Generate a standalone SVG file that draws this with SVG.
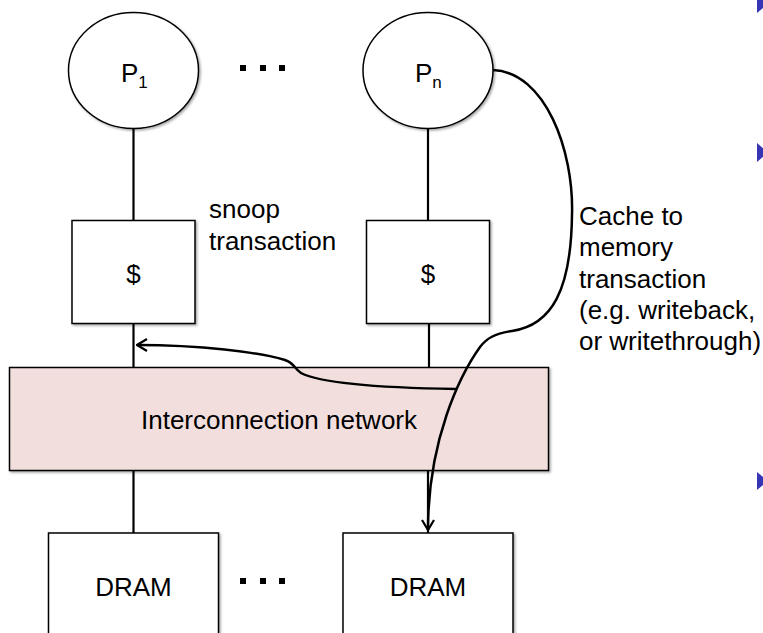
<svg xmlns="http://www.w3.org/2000/svg" width="763" height="633" viewBox="0 0 763 633">
<style>
  text { font-family: "Liberation Sans", Arial, sans-serif; font-size: 26px; fill: #000; }
  .node { fill: #fff; stroke: #000; stroke-width: 1.5; }
  .net { fill: #f2dfdd; stroke: #000; stroke-width: 1.5; }
  .wire { stroke: #000; stroke-width: 2.2; fill: none; }
  .curve { stroke: #000; stroke-width: 2.5; fill: none; }
  .dot { fill: #000; }
  .bullet { fill: #3535b5; }
</style>
<defs>
  <filter id="sh" x="-10%" y="-10%" width="130%" height="130%">
    <feDropShadow dx="1.5" dy="1.5" stdDeviation="1" flood-color="#000" flood-opacity="0.35"/>
  </filter>
  <marker id="arr" viewBox="0 0 12 14" refX="11" refY="7" markerWidth="12" markerHeight="14" markerUnits="userSpaceOnUse" orient="auto">
    <path d="M1,1 L11,7 L1,13" fill="none" stroke="#000" stroke-width="2.2"/>
  </marker>
</defs>

<g id="connectors">
  <line class="wire" x1="133.5" y1="128.5" x2="133.5" y2="220.5"/>
  <line class="wire" x1="428" y1="128.5" x2="428" y2="220.5"/>
  <line class="wire" x1="133.5" y1="323.5" x2="133.5" y2="367.5"/>
  <line class="wire" x1="429" y1="323.5" x2="429" y2="367.5"/>
  <line class="wire" x1="133.5" y1="470.5" x2="133.5" y2="533"/>
  <line class="wire" x1="428" y1="470.5" x2="428" y2="533"/>
</g>

<g id="network">
  <rect class="net" x="9.5" y="367.5" width="539" height="103" filter="url(#sh)"/>
  <text x="279" y="429" text-anchor="middle">Interconnection network</text>
</g>

<g id="p1">
  <ellipse class="node" cx="133.5" cy="70.5" rx="65" ry="58" filter="url(#sh)"/>
  <text x="121" y="82">P<tspan font-size="17" dy="6">1</tspan></text>
</g>
<g id="pn">
  <ellipse class="node" cx="428" cy="70.5" rx="65" ry="58" filter="url(#sh)"/>
  <text x="415" y="82">P<tspan font-size="17" dy="6">n</tspan></text>
</g>

<g id="cache1">
  <rect class="node" x="72" y="220.5" width="123" height="103" filter="url(#sh)"/>
  <text x="133.5" y="283" text-anchor="middle">$</text>
</g>
<g id="cachen">
  <rect class="node" x="366.5" y="220.5" width="123" height="103" filter="url(#sh)"/>
  <text x="428" y="283" text-anchor="middle">$</text>
</g>

<g id="dram1">
  <rect class="node" x="48.5" y="533" width="170" height="120" filter="url(#sh)"/>
  <text x="133.5" y="596" text-anchor="middle">DRAM</text>
</g>
<g id="dramn">
  <rect class="node" x="343" y="533" width="170" height="120" filter="url(#sh)"/>
  <text x="428" y="596" text-anchor="middle">DRAM</text>
</g>

<g id="ellipsis-top">
  <rect class="dot" x="240" y="65" width="6" height="6"/>
  <rect class="dot" x="260" y="65" width="6" height="6"/>
  <rect class="dot" x="279" y="65" width="6" height="6"/>
</g>
<g id="ellipsis-bottom">
  <rect class="dot" x="240" y="578" width="6" height="6"/>
  <rect class="dot" x="260" y="578" width="6" height="6"/>
  <rect class="dot" x="279" y="578" width="6" height="6"/>
</g>

<g id="transactions">
  <path class="curve" d="M456,389 C395,388 322,384 301,373 C294,368 294,363 285,360 C258,352 200,345 137,345" marker-end="url(#arr)"/>
  <path class="curve" d="M493,70 C545,72 574,150 572,215 C571,290 552,325 512,331 C494,334 487,338 480,347 C460,375 428,440 428,530" marker-end="url(#arr)"/>
</g>

<g id="labels">
  <text x="209" y="218">snoop</text>
  <text x="209" y="250">transaction</text>
  <text x="579" y="225">Cache to</text>
  <text x="579" y="256">memory</text>
  <text x="579" y="287.5">transaction</text>
  <text x="579" y="319">(e.g. writeback,</text>
  <text x="579" y="350">or writethrough)</text>
</g>

<g id="bullets">
  <polygon class="bullet" points="757,-5 757,13 768,4"/>
  <polygon class="bullet" points="757,143 757,162 768,152.5"/>
  <polygon class="bullet" points="757,472 757,490 768,481"/>
</g>
</svg>
